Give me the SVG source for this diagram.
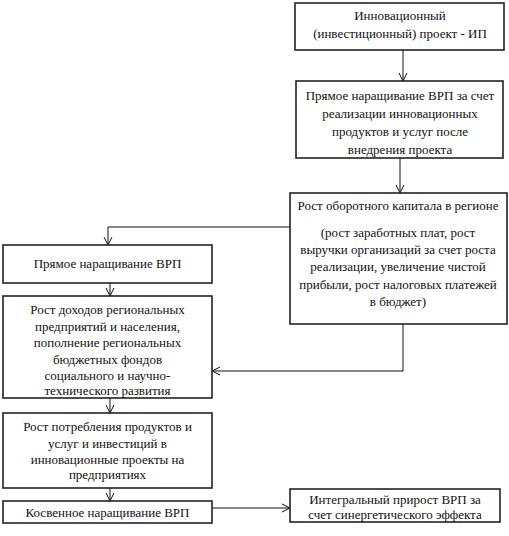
<svg xmlns="http://www.w3.org/2000/svg" width="509" height="536" viewBox="0 0 509 536">
<style>
.box{fill:#fff;stroke:#222;stroke-width:1.6}
.t{font-family:'Liberation Serif','Times New Roman',serif;font-size:13px;fill:#111;text-anchor:middle}
.c{fill:none;stroke:#111;stroke-width:1}
</style>
<defs>
<marker id="ah" markerUnits="userSpaceOnUse" markerWidth="12" markerHeight="12" refX="9" refY="5" orient="auto">
<path d="M1,1 L9,5 L1,9" fill="none" stroke="#111" stroke-width="1"/>
</marker>
</defs>
<rect width="509" height="536" fill="#fff"/>
<g id="connectors">
<path class="c" d="M403,50 V81" marker-end="url(#ah)"/>
<path class="c" d="M400,158 V193" marker-end="url(#ah)"/>
<path class="c" d="M290,227 H108 V245" marker-end="url(#ah)"/>
<path class="c" d="M110,283 V296" marker-end="url(#ah)"/>
<path class="c" d="M403,324 V371 H212" marker-end="url(#ah)"/>
<path class="c" d="M110,398 V413" marker-end="url(#ah)"/>
<path class="c" d="M110,488 V501" marker-end="url(#ah)"/>
<path class="c" d="M212,508 H290" marker-end="url(#ah)"/>
</g>
<g id="n1">
<rect class="box" x="295" y="3" width="209" height="47"/>
<text class="t" x="400" y="20">Инновационный</text>
<text class="t" x="400" y="38">(инвестиционный) проект - ИП</text>
</g>
<g id="n2">
<rect class="box" x="296" y="81" width="207" height="77"/>
<text class="t" x="400" y="100">Прямое наращивание ВРП за счет</text>
<text class="t" x="400" y="118">реализации инновационных</text>
<text class="t" x="400" y="136">продуктов и услуг после</text>
<text class="t" x="400" y="154">внедрения проекта</text>
</g>
<g id="n3">
<rect class="box" x="290" y="193" width="217" height="131"/>
<text class="t" x="398" y="210">Рост оборотного капитала в регионе</text>
<text class="t" x="398" y="237">(рост заработных плат, рост</text>
<text class="t" x="398" y="254">выручки организаций за счет роста</text>
<text class="t" x="398" y="271">реализации, увеличение чистой</text>
<text class="t" x="398" y="289">прибыли, рост налоговых платежей</text>
<text class="t" x="398" y="306">в бюджет)</text>
</g>
<g id="n4">
<rect class="box" x="3" y="245" width="209" height="38"/>
<text class="t" x="107.5" y="268">Прямое наращивание ВРП</text>
</g>
<g id="n5">
<rect class="box" x="3" y="296" width="209" height="102"/>
<text class="t" x="107.5" y="314">Рост доходов региональных</text>
<text class="t" x="107.5" y="330.5">предприятий и населения,</text>
<text class="t" x="107.5" y="347">пополнение региональных</text>
<text class="t" x="107.5" y="363.5">бюджетных фондов</text>
<text class="t" x="107.5" y="380">социального и научно-</text>
<text class="t" x="107.5" y="395">технического развития</text>
</g>
<g id="n6">
<rect class="box" x="3" y="413" width="209" height="75"/>
<text class="t" x="107.5" y="431">Рост потребления продуктов и</text>
<text class="t" x="107.5" y="448">услуг и инвестиций в</text>
<text class="t" x="107.5" y="464">инновационные проекты на</text>
<text class="t" x="107.5" y="479">предприятиях</text>
</g>
<g id="n7">
<rect class="box" x="3" y="501" width="209" height="22"/>
<text class="t" x="107.5" y="517">Косвенное наращивание ВРП</text>
</g>
<g id="n8">
<rect class="box" x="290" y="489" width="210" height="33"/>
<text class="t" x="395" y="504">Интегральный прирост ВРП за</text>
<text class="t" x="395" y="519">счет синергетического эффекта</text>
</g>
</svg>
